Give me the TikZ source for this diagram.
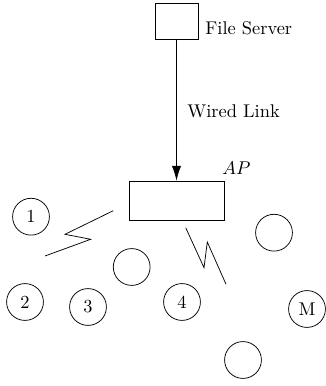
\documentclass[tikz,border=0pt]{standalone}
\usetikzlibrary{arrows.meta}
\begin{document}
\begin{tikzpicture}[x=0.543pt,y=-0.543pt,
  box/.style={draw, rectangle, inner sep=0pt},
  stn/.style={draw, circle, minimum size=20pt, inner sep=0pt},
  lbl/.style={inner sep=0pt, anchor=west}]
\useasboundingbox (0,0) rectangle (325,386);
\node[box, minimum width=23.4pt, minimum height=19.5pt] (fs) at (176.5,21) {};
\node[box, minimum width=51.6pt, minimum height=21.2pt] (ap) at (176.5,200.5) {};
\node[lbl] (fslbl) at (205,28) {File Server};
\node[lbl] (wl) at (187,111) {Wired Link};
\node[lbl] (aplbl) at (222,168) {$AP$};
\draw[-{Latex[length=8pt,width=5pt]}] (fs.south) -- (ap.north);
\node[stn] (s1) at (31,216.7) {1};
\node[stn] (s2) at (25,302) {2};
\node[stn] (s3) at (88,307) {3};
\node[stn] (s4) at (182,302) {4};
\node[stn] (sm) at (307,309) {M};
\node[stn] (e1) at (131.7,267) {};
\node[stn] (e2) at (274,232.7) {};
\node[stn] (e3) at (243,360) {};
\draw (113.3,210.7) -- (65,234.3) -- (90.7,239.3) -- (45,256);
\draw (185.7,227.7) -- (204,267.7) -- (207.3,242) -- (226,284.3);
\end{tikzpicture}
\end{document}
